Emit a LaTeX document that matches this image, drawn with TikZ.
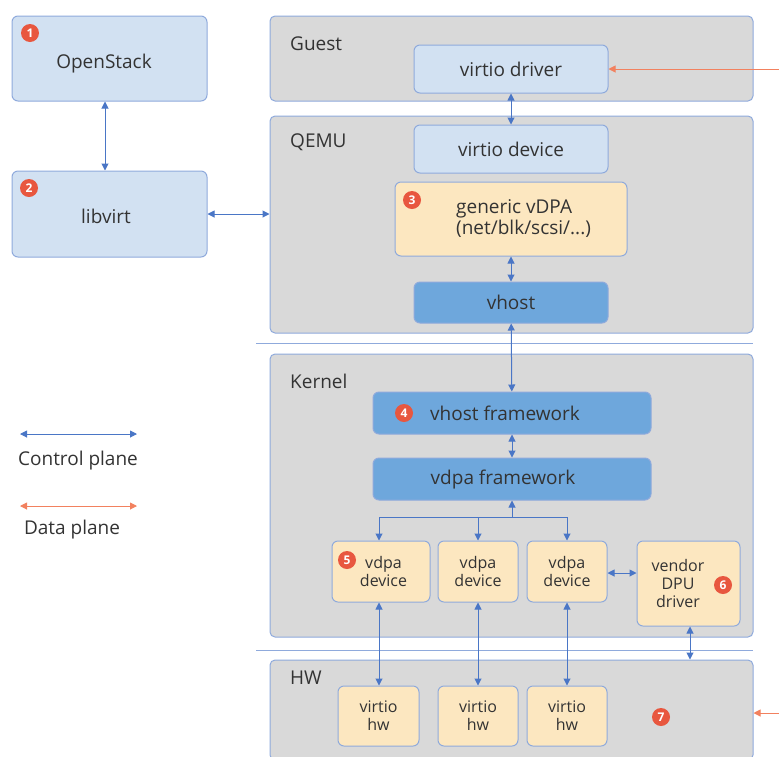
\documentclass[tikz,border=0pt]{standalone}
\usepackage{fontspec}
\setmainfont{Open Sans}
\usetikzlibrary{arrows.meta}

\definecolor{panelgray}{HTML}{D9D9D9}
\definecolor{panelline}{HTML}{8FAADC}
\definecolor{lightblue}{HTML}{D2E1F2}
\definecolor{midblue}{HTML}{6EA7DC}
\definecolor{paleyellow}{HTML}{FCE7C0}
\definecolor{ctlblue}{HTML}{4A76C6}
\definecolor{datared}{HTML}{F2815F}
\definecolor{badgered}{HTML}{E8573F}
\definecolor{textgray}{HTML}{333333}

\begin{document}
\begin{tikzpicture}[x=1pt, y=-1pt, inner sep=1pt, text=textgray,
  panel/.style={draw=panelline, fill=panelgray, rounded corners=5pt, line width=1pt},
  bluebox/.style={draw=panelline, fill=lightblue, rounded corners=6pt, line width=1pt, font=\fontsize{19}{21}\selectfont},
  darkbox/.style={draw=panelline, fill=midblue, rounded corners=6pt, line width=1pt, font=\fontsize{19}{21}\selectfont},
  yelbox/.style={draw=panelline, fill=paleyellow, rounded corners=6pt, line width=1pt, font=\fontsize{16}{18}\selectfont, align=center},
  paneltitle/.style={anchor=west, font=\fontsize{19}{21}\selectfont},
  badge/.style={circle, fill=badgered, text=white, inner sep=0pt, minimum size=18pt, font=\fontsize{12}{12}\selectfont\bfseries},
  ctl/.style={draw=ctlblue, line width=1pt, {Triangle[width=7pt,length=7pt]}-{Triangle[width=7pt,length=7pt]}},
  ctlone/.style={draw=ctlblue, line width=1pt, -{Triangle[width=7pt,length=7pt]}},
  data/.style={draw=datared, line width=1pt, -{Triangle[width=7pt,length=7pt]}},
  sep/.style={draw=panelline, line width=1pt}]
\useasboundingbox (0,0) rectangle (779,756);

% management side
\node[bluebox, minimum width=195pt, minimum height=85pt] (openstack) at (109.5,58.5) {};
\node[font=\fontsize{19}{21}\selectfont] (topenstack) at (104,64) {OpenStack};
\node[bluebox, minimum width=195pt, minimum height=86pt] (libvirt) at (109.5,214) {};
\node[font=\fontsize{19}{21}\selectfont] (tlibvirt) at (106,216) {libvirt};
\node[badge] (b1) at (30,33) {1};
\node[badge] (b2) at (29,188) {2};

% layers
\node[panel, minimum width=483pt, minimum height=85pt] (guest) at (511.5,58.5) {};
\node[panel, minimum width=483pt, minimum height=217pt] (qemu) at (511.5,224.5) {};
\node[panel, minimum width=483pt, minimum height=283pt] (kernel) at (511.5,495.5) {};
\node[panel, minimum width=483pt, minimum height=100pt] (hw) at (511.5,710) {};
\node[paneltitle] (tguest) at (289,44) {Guest};
\node[paneltitle] (tqemu) at (289,142) {QEMU};
\node[paneltitle] (tkernel) at (289,381) {Kernel};
\node[paneltitle] (thw) at (289,678) {HW};
\coordinate (s1a) at (256,343); \coordinate (s1b) at (753,343);
\coordinate (s2a) at (256,650); \coordinate (s2b) at (753,650);
\draw[sep] (s1a) -- (s1b);
\draw[sep] (s2a) -- (s2b);

% guest + qemu
\node[bluebox, minimum width=194pt, minimum height=48pt] (driver) at (511,69) {virtio driver};
\node[bluebox, minimum width=194pt, minimum height=48pt] (device) at (511,149) {virtio device};
\node[yelbox, minimum width=232pt, minimum height=74pt] (generic) at (511,219) {};
\node[font=\fontsize{19}{21}\selectfont, align=left, anchor=west] (tgeneric) at (455,219) {generic vDPA\\(net/blk/scsi/...)};
\node[badge] (b3) at (412,200) {3};
\node[darkbox, minimum width=194pt, minimum height=41pt] (vhost) at (511,302.5) {vhost};

% kernel
\node[darkbox, minimum width=278pt, minimum height=42pt] (vhfw) at (512,413) {};
\node[font=\fontsize{19}{21}\selectfont] (tvhfw) at (505,413) {vhost framework};
\node[badge] (b4) at (404,413) {4};
\node[darkbox, minimum width=278pt, minimum height=42pt] (vdfw) at (512,479) {};
\node[font=\fontsize{19}{21}\selectfont] (tvdfw) at (503,480) {vdpa framework};
\node[yelbox, minimum width=98pt, minimum height=61pt] (dev1) at (381,571.5) {\hspace{5pt}vdpa\\\hspace{5pt}device};
\node[badge] (b5) at (347,560) {5};
\node[yelbox, minimum width=80pt, minimum height=61pt] (dev2) at (478,571.5) {vdpa\\device};
\node[yelbox, minimum width=80pt, minimum height=61pt] (dev3) at (567,571.5) {vdpa\\device};
\node[yelbox, minimum width=103pt, minimum height=85pt] (vendor) at (688.5,583.5) {};
\node[font=\fontsize{16}{18}\selectfont, align=center] (tvendor) at (678,583) {vendor\\DPU\\driver};
\node[badge] (b6) at (723,585) {6};

% hw
\node[yelbox, minimum width=81pt, minimum height=60pt] (hw1) at (378.5,716) {virtio\\hw};
\node[yelbox, minimum width=80pt, minimum height=60pt] (hw2) at (478,716) {virtio\\hw};
\node[yelbox, minimum width=80pt, minimum height=60pt] (hw3) at (567,716) {virtio\\hw};
\node[badge] (b7) at (661,717) {7};

% connectors
\draw[ctl] (openstack.south -| 105,0) -- (libvirt.north -| 105,0);
\draw[ctl] (libvirt.east) -- (qemu.west |- libvirt.east);
\draw[ctl] (driver) -- (device);
\draw[ctl] (generic) -- (vhost);
\draw[ctl] (vhost) -- (vhfw);
\draw[ctl] (vhfw) -- (vdfw);
\coordinate (fork) at (512,517);
\draw[ctlone] (fork) -- (vdfw.south);
\draw[ctlone] (fork) -| (dev1.north -| 379,0);
\draw[ctlone] (fork) -| (dev2.north);
\draw[ctlone] (fork) -| (dev3.north);
\draw[ctl] (dev1.south -| 379,0) -- (hw1.north -| 379,0);
\draw[ctl] (dev2) -- (hw2);
\draw[ctl] (dev3) -- (hw3);
\draw[ctl] (dev3.east |- 0,573) -- (vendor.west |- 0,573);
\draw[ctl] (vendor.south -| 690,0) -- (hw.north -| 690,0);

% data plane inputs
\coordinate (din1) at (779,69);
\coordinate (din2) at (779,713);
\draw[data] (din1) -- (driver.east);
\draw[data] (din2) -- (hw.east |- din2);

% legend
\coordinate (lc1) at (20,434); \coordinate (lc2) at (137,434);
\coordinate (ld1) at (20,506); \coordinate (ld2) at (137,506);
\draw[ctl] (lc1) -- (lc2);
\draw[ctl, draw=datared] (ld1) -- (ld2);
\node[font=\fontsize{19}{21}\selectfont] (lctl) at (78,461) {Control plane};
\node[font=\fontsize{19}{21}\selectfont] (ldata) at (72,530) {Data plane};
\end{tikzpicture}
\end{document}
